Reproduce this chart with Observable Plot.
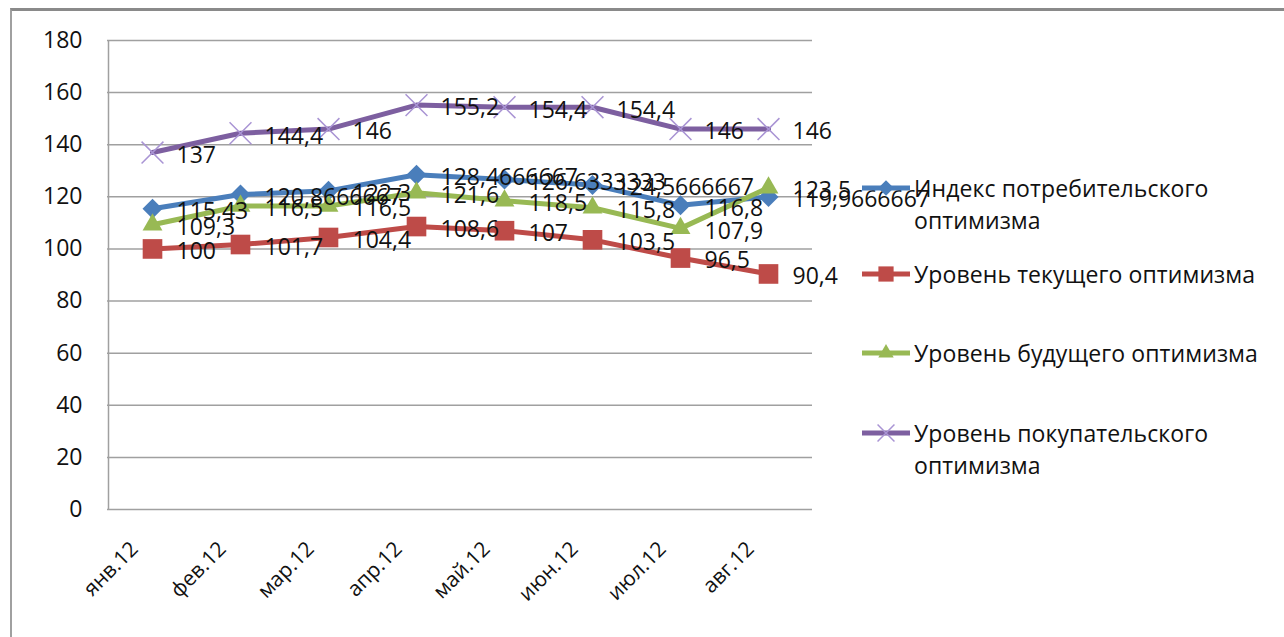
<!DOCTYPE html>
<html>
<head>
<meta charset="utf-8">
<script src="https://cdn.jsdelivr.net/npm/d3@7"></script>
<script src="https://cdn.jsdelivr.net/npm/@observablehq/plot@0.6"></script>
<style>
  html, body { margin: 0; padding: 0; background: #fff; }
  #wrap { position: relative; width: 1284px; height: 637px; overflow: hidden; font-family: "Open Sans", "Noto Sans", sans-serif; }
  #frame { position: absolute; left: 10px; top: 8px; width: 1290px; height: 700px; border-top: 3px solid #8a8a8a; border-left: 2px solid #a0a0a0; box-sizing: border-box; pointer-events: none; }
  #chart { position: absolute; left: 0; top: 0; }
  #legend { position: absolute; left: 862px; top: 0; width: 422px; height: 637px; }
  .item { position: absolute; left: 0; display: flex; align-items: flex-start; }
  .item svg { flex: none; }
  .item span { font-size: 23px; color: #111; line-height: 32px; margin-left: 4px; letter-spacing: 0.1px; }
</style>
</head>
<body>
<div id="wrap">
  <div id="chart"></div>
  <div id="legend"></div>
  <div id="frame"></div>
</div>
<script>
const months = ["янв.12", "фев.12", "мар.12", "апр.12", "май.12", "июн.12", "июл.12", "авг.12"];
const seriesNames = [
  "Индекс потребительского оптимизма",
  "Уровень текущего оптимизма",
  "Уровень будущего оптимизма",
  "Уровень покупательского оптимизма"
];
const indexValues   = [115.43, 120.8666667, 122.3, 128.4666667, 126.6333333, 124.5666667, 116.8, 119.9666667];
const currentValues = [100, 101.7, 104.4, 108.6, 107, 103.5, 96.5, 90.4];
const futureValues  = [109.3, 116.5, 116.5, 121.6, 118.5, 115.8, 107.9, 123.5];
const buyingValues  = [137, 144.4, 146, 155.2, 154.4, 154.4, 146, 146];
const yTicks = [0, 20, 40, 60, 80, 100, 120, 140, 160, 180];

const colors = ["#4a7ebb", "#be4b48", "#98b954", "#7d5fa0"];
const allValues = [indexValues, currentValues, futureValues, buyingValues];

const rows = [];
allValues.forEach((vals, s) => vals.forEach((v, i) => rows.push({series: seriesNames[s], s, month: months[i], value: v})));
const fmt = v => String(v).replace(".", ",");

const symbolSpecs = [
  {symbol: "diamond2", r: 9, fill: colors[0], stroke: "none"},
  {symbol: "square2", r: 12.5, fill: colors[1], stroke: "none"},
  {symbol: "triangle2", r: 9.5, fill: colors[2], stroke: "none"},
  {symbol: "times", r: 10, fill: "none", stroke: "#a994d4"}
];

const marks = [
  Plot.gridY(yTicks, {stroke: "#a0a0a0", strokeOpacity: 1, strokeWidth: 1.5})
];
seriesNames.forEach((name, s) => {
  const d = rows.filter(r => r.s === s);
  marks.push(Plot.line(d, {x: "month", y: "value", stroke: colors[s], strokeWidth: 5, curve: "linear"}));
  const sp = symbolSpecs[s];
  marks.push(Plot.dot(d, {x: "month", y: "value", symbol: () => sp.symbol, r: sp.r, fill: sp.fill, stroke: sp.stroke, strokeWidth: 1.5}));
});
marks.push(Plot.ruleX([months[0]], {stroke: "#a0a0a0", strokeWidth: 1.5, dx: -44}));
marks.push(Plot.text(rows, {x: "month", y: "value", text: d => fmt(d.value), textAnchor: "start", dx: 24, dy: 3, fontSize: 23, fill: "#111"}));
marks.push(Plot.axisY(yTicks, {tickSize: 0, tickPadding: 25, fontSize: 23, fill: "#111", label: null}));
marks.push(Plot.axisX({tickSize: 0, tickRotate: -45, tickPadding: 10, fontSize: 21, fill: "#111", label: null, dx: -18, dy: 26}));

const chart = Plot.plot({
  width: 1284,
  height: 637,
  marginLeft: 107,
  marginRight: 472,
  marginTop: 40,
  marginBottom: 128,
  style: {fontFamily: "'Open Sans', 'Noto Sans', sans-serif", background: "transparent", overflow: "visible"},
  x: {type: "point", domain: months, padding: 0.5},
  y: {domain: [0, 180], ticks: yTicks},
  marks
});
document.getElementById("chart").appendChild(chart);

// Legend
const legendTops = [172, 258, 337, 417];
const legend = d3.select("#legend");
const typeMap = {diamond2: d3.symbolDiamond2, square2: d3.symbolSquare2, triangle2: d3.symbolTriangle2, times: d3.symbolTimes};
seriesNames.forEach((name, s) => {
  const item = legend.append("div").attr("class", "item").style("top", legendTops[s] + "px");
  const svg = item.append("svg").attr("width", 48).attr("height", 32);
  svg.append("line").attr("x1", 0).attr("x2", 48).attr("y1", 16).attr("y2", 16).attr("stroke", colors[s]).attr("stroke-width", 5);
  const sp = symbolSpecs[s];
  svg.append("path")
    .attr("transform", "translate(24,16)")
    .attr("d", d3.symbol(typeMap[sp.symbol], Math.PI * sp.r * sp.r * 0.6)())
    .attr("fill", sp.fill).attr("stroke", sp.stroke).attr("stroke-width", 1.5);
  const span = item.append("span").style("width", s === 1 || s === 2 ? "370px" : "320px").style("white-space", s === 1 || s === 2 ? "nowrap" : "normal");
  span.text(name);
});
</script>
</body>
</html>
